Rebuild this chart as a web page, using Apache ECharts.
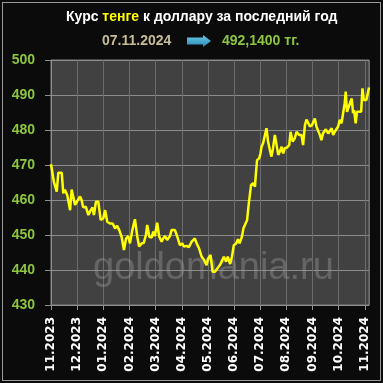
<!DOCTYPE html>
<html>
<head>
<meta charset="utf-8">
<script src="https://cdn.jsdelivr.net/npm/echarts@6/dist/echarts.min.js"></script>
<style>
html,body{margin:0;padding:0;background:#0a0a0a;}
#wrap{position:relative;width:383px;height:383px;background:#0b0b0b;overflow:hidden;}
#chart{position:absolute;left:0;top:0;width:383px;height:383px;}
#frame{position:absolute;left:2px;top:2px;width:379px;height:379px;border:1px solid #9a9a9a;box-sizing:border-box;pointer-events:none;}
</style>
</head>
<body>
<div id="wrap"><div id="chart"></div><div id="frame"></div></div>
<script>
// Month labels on the x axis (one per monthly tick)
const tickLabels = ['11.2023','12.2023','01.2024','02.2024','03.2024','04.2024','05.2024',
                    '06.2024','07.2024','08.2024','09.2024','10.2024','11.2024'];
// Time of each observation, in months since 07.11.2023
const months = [
  0,0.11,0.22,0.28,0.41,0.47,0.53,0.62,0.73,0.79,
  0.85,0.92,0.98,1.11,1.17,1.23,1.33,1.43,1.52,1.59,
  1.64,1.72,1.81,1.90,2.00,2.07,2.15,2.25,2.36,2.45,
  2.53,2.61,2.70,2.79,2.87,2.95,3.02,3.11,3.21,3.30,
  3.37,3.47,3.55,3.63,3.68,3.76,3.85,3.91,3.97,4.06,
  4.14,4.23,4.29,4.36,4.44,4.55,4.61,4.74,4.83,4.93,
  5.02,5.08,5.19,5.27,5.38,5.50,5.57,5.66,5.76,5.85,
  5.95,6.01,6.10,6.18,6.27,6.33,6.46,6.53,6.61,6.70,
  6.76,6.85,6.92,6.99,7.08,7.15,7.21,7.30,7.36,7.42,
  7.50,7.55,7.62,7.65,7.73,7.80,7.83,7.88,7.96,8.01,
  8.05,8.11,8.18,8.24,8.30,8.37,8.43,8.49,8.56,8.62,
  8.69,8.75,8.82,8.88,8.94,9.03,9.11,9.16,9.24,9.32,
  9.39,9.49,9.58,9.64,9.71,9.77,9.83,9.90,9.98,10.09,
  10.15,10.21,10.28,10.34,10.40,10.51,10.60,10.66,10.73,10.79,
  10.85,10.92,10.98,11.04,11.11,11.17,11.23,11.27,11.32,11.39,
  11.45,11.50,11.55,11.59,11.65,11.70,11.78,11.86,11.91,11.96,
  12.06,12.11,12.16
];
// KZT per USD
const rates = [
  470.2,465.2,462.4,467.8,467.8,461.9,462.9,461.4,457.1,463,
  463,458.6,458.1,461,460,457.9,458.1,455.7,457.1,457.9,
  455.7,459.5,459.5,454.3,454.8,457.1,453.8,453.3,453.3,451.9,
  452.6,451.4,449.5,445.7,449,449.7,447.6,451.4,454.5,449.5,
  446.7,447.6,447.8,450,452.9,449.5,449.3,451,449.7,453.5,
  449.5,448.1,449,449.7,448.6,449.7,451.4,451.4,449.5,447.1,
  447.6,446.7,446.9,446.5,448.1,449,447.6,446.2,443.8,442.9,
  441.4,443.3,444.3,439.5,439.5,440,441.4,441.7,443.8,442.4,
  443.8,441.7,443.8,447.1,447.6,448.8,447.6,449.5,451.9,451.9,
  454.3,458.1,458.1,464.3,464.8,463.8,467.1,471.4,471.9,473.3,
  475.2,476.2,476.7,480.5,476.7,474.3,472.4,474.8,478.6,478.6,
  472.9,473.8,475.2,473.3,474.8,475,475.7,479.5,476.7,477.6,
  479.5,478.6,478.6,475.7,481.4,483,482.9,481,481.4,483.3,
  481,481,478.6,477.1,479,480.2,479,479.5,480.5,478.6,
  479.5,480,481,482.9,481.9,484.8,487.6,491,485.2,486.7,
  488.1,489,484.8,485.7,481.9,485.2,485.2,485.2,491.9,488.6,
  488.6,489,492.14
];
const yTicks = [430, 500, 10]; // min, max, step
const titleText = ['Курс ', 'тенге', ' к доллару за последний год'];
const dateText = '07.11.2024';
const rateText = '492,1400 тг.';

const chart = echarts.init(document.getElementById('chart'), null, {renderer: 'canvas'});
const bold14 = {fontSize: 14, fontWeight: 'bold', fontFamily: 'Liberation Sans'};
const option = {
  backgroundColor: 'transparent',
  animation: false,
  title: [
    {
      text: '{w|' + titleText[0] + '}{y|' + titleText[1] + '}{w|' + titleText[2] + '}',
      left: 66, top: 10, padding: 0,
      textStyle: {rich: {
        w: Object.assign({color: '#ffffff'}, bold14),
        y: Object.assign({color: '#ffff00'}, bold14)
      }}
    },
    {text: dateText, left: 102, top: 34, padding: 0,
     textStyle: Object.assign({color: '#c6bd98'}, bold14)},
    {text: rateText, left: 222, top: 34, padding: 0,
     textStyle: Object.assign({color: '#8cc63f'}, bold14)}
  ],
  graphic: [
    {
      type: 'polygon', z: 10,
      shape: {points: [[187,37.5],[203,37.5],[203,35],[211,41],[203,47],[203,44.5],[187,44.5]]},
      style: {fill: new echarts.graphic.LinearGradient(0,0,0,1,[
        {offset:0,color:'#6cc8e8'},{offset:1,color:'#2a8ab8'}])}
    },
    {
      type: 'text', z: 1, left: 93, top: 250,
      style: {text: 'goldomania.ru', fontSize: 38, fontFamily: 'Liberation Sans',
              fill: 'rgba(160,160,160,0.38)'}
    }
  ],
  grid: {left: 51, right: 14, top: 60, bottom: 78, show: true,
         backgroundColor: '#414141', borderColor: '#808080', borderWidth: 1},
  xAxis: {
    type: 'value', min: 0, max: 12.16, interval: 1,
    axisLine: {show: true, lineStyle: {color: '#909090'}},
    axisTick: {show: true, length: 5, lineStyle: {color: '#909090'}},
    splitLine: {show: true, lineStyle: {color: '#6c6c6c'}},
    axisLabel: {
      rotate: 90, margin: 12, color: '#ffffff', fontSize: 12, fontWeight: 'bold',
      fontFamily: 'DejaVu Sans', showMaxLabel: false,
      formatter: v => (Math.abs(v - Math.round(v)) < 1e-6 ? (tickLabels[Math.round(v)] || '') : '')
    }
  },
  yAxis: {
    type: 'value', min: yTicks[0], max: yTicks[1], interval: yTicks[2],
    axisLine: {show: true, lineStyle: {color: '#909090'}},
    axisTick: {show: true, length: 6, lineStyle: {color: '#909090'}},
    splitLine: {show: true, lineStyle: {color: '#8c8c8c'}},
    axisLabel: Object.assign({margin: 16, color: '#8cc63f'}, bold14)
  },
  series: [{
    type: 'line', z: 5,
    data: months.map((m, i) => [m, rates[i]]),
    showSymbol: false, symbol: 'none',
    lineStyle: {color: '#ffff00', width: 2.5},
    itemStyle: {color: '#ffff00'}
  }]
};
chart.setOption(option);
</script>
</body>
</html>
